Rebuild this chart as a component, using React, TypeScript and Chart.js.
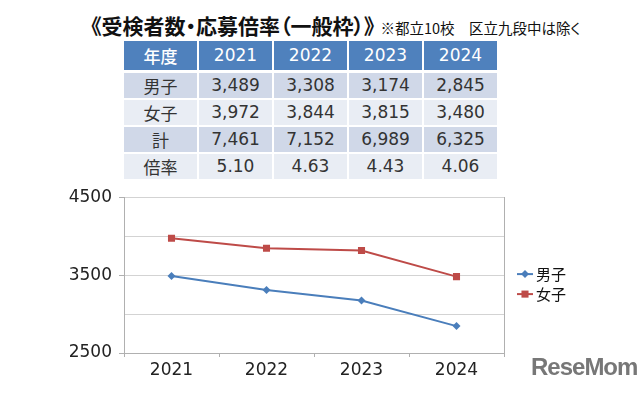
import React, { useEffect, useRef } from "react";
import { Chart, registerables } from "chart.js";

Chart.register(...registerables);

const years = ["2021", "2022", "2023", "2024"];
const boys = [3489, 3308, 3174, 2845];
const girls = [3972, 3844, 3815, 3480];
const totals = [7461, 7152, 6989, 6325];
const ratios = [5.1, 4.63, 4.43, 4.06];
const seriesNames = ["男子", "女子"];
const rowLabels = ["男子", "女子", "計", "倍率"];
const yTickLabels = [2500, 3500, 4500];

const BLUE = "#4a7ebb";
const RED = "#be4b48";
const AXIS = "#b0b0b0";

const decorPlugin = {
  id: "decor",
  afterDraw(chart: any) {
    const ctx = chart.ctx;
    const ys = chart.scales.y;
    const area = chart.chartArea;
    ctx.save();
    ctx.strokeStyle = AXIS;
    ctx.lineWidth = 1;
    yTickLabels.forEach((v) => {
      const py = Math.round(ys.getPixelForValue(v)) + 0.5;
      ctx.beginPath();
      ctx.moveTo(area.left - 5, py);
      ctx.lineTo(area.left, py);
      ctx.stroke();
    });
    ctx.restore();

    const x0 = area.right + 13;
    const yc = (area.top + area.bottom) / 2;
    chart.data.datasets.forEach((ds: any, i: number) => {
      const y = yc - 1 + i * 20;
      ctx.save();
      ctx.strokeStyle = ds.borderColor;
      ctx.lineWidth = 2;
      ctx.beginPath();
      ctx.moveTo(x0, y);
      ctx.lineTo(x0 + 16, y);
      ctx.stroke();
      ctx.fillStyle = ds.backgroundColor;
      const r = ds.pointRadius;
      if (ds.pointStyle === "rectRot") {
        ctx.beginPath();
        ctx.moveTo(x0 + 8, y - r);
        ctx.lineTo(x0 + 8 + r, y);
        ctx.lineTo(x0 + 8, y + r);
        ctx.lineTo(x0 + 8 - r, y);
        ctx.closePath();
        ctx.fill();
      } else {
        const s = r * Math.SQRT1_2;
        ctx.fillRect(x0 + 8 - s, y - s, 2 * s, 2 * s);
      }
      ctx.fillStyle = "#111";
      ctx.font = '15px "Noto Sans CJK JP"';
      ctx.textBaseline = "middle";
      ctx.textAlign = "left";
      ctx.fillText(ds.label, x0 + 19, y);
      ctx.restore();
    });
  },
};

function LineChart() {
  const ref = useRef<HTMLCanvasElement | null>(null);
  useEffect(() => {
    if (!ref.current) return;
    const chart = new Chart(ref.current, {
      type: "line",
      data: {
        labels: years,
        datasets: [
          {
            label: seriesNames[0],
            data: boys,
            borderColor: BLUE,
            backgroundColor: BLUE,
            borderWidth: 2,
            pointStyle: "rectRot",
            pointRadius: 4,
            pointBorderWidth: 0,
            tension: 0,
          },
          {
            label: seriesNames[1],
            data: girls,
            borderColor: RED,
            backgroundColor: RED,
            borderWidth: 2,
            pointStyle: "rect",
            pointRadius: 5,
            pointBorderWidth: 0,
            tension: 0,
          },
        ],
      },
      options: {
        animation: false,
        responsive: false,
        maintainAspectRatio: false,
        layout: { padding: { top: 14, right: 136, left: 0, bottom: 0 } },
        plugins: { legend: { display: false }, tooltip: { enabled: false } },
        scales: {
          x: {
            offset: true,
            afterFit: (s: any) => {
              s.height = 40;
            },
            grid: {
              offset: true,
              drawOnChartArea: false,
              color: AXIS,
              tickColor: AXIS,
              tickLength: 4,
            },
            border: { color: AXIS, width: 1 },
            ticks: {
              color: "#222",
              font: { family: "DejaVu Sans", size: 17 },
              padding: 3,
              autoSkip: false,
            },
          },
          y: {
            min: 2500,
            max: 4500,
            afterFit: (s: any) => {
              s.width = 124;
            },
            grid: {
              color: "#d3d3d3",
              drawTicks: true,
              tickLength: 5,
              tickColor: "rgba(0,0,0,0)",
            },
            border: { color: AXIS, width: 1 },
            ticks: {
              stepSize: 500,
              color: "#222",
              font: { family: "DejaVu Sans", size: 17 },
              padding: 7,
              autoSkip: false,
              callback: (v: any) => (yTickLabels.includes(Number(v)) ? String(v) : " "),
            },
          },
          yRight: {
            position: "right",
            min: 2500,
            max: 4500,
            afterFit: (s: any) => {
              s.width = 0;
            },
            grid: { display: false, drawTicks: false },
            ticks: { display: false, padding: 0 },
            border: { display: true, color: AXIS, width: 1 },
          },
        },
      },
      plugins: [decorPlugin],
    });
    return () => chart.destroy();
  }, []);
  return (
    <canvas
      ref={ref}
      width={640}
      height={213}
      style={{ position: "absolute", left: 0, top: 180, width: 640, height: 213 }}
    />
  );
}

const cellFont = '"DejaVu Sans", "Noto Sans CJK JP", sans-serif';

function DataTable() {
  const rows = [
    boys.map((v) => v.toLocaleString("en-US")),
    girls.map((v) => v.toLocaleString("en-US")),
    totals.map((v) => v.toLocaleString("en-US")),
    ratios.map((v) => v.toFixed(2)),
  ];
  const rowBg = ["#d0d8e8", "#e9edf4", "#d0d8e8", "#e9edf4"];
  const base: React.CSSProperties = {
    width: 73,
    padding: 0,
    textAlign: "center",
    border: "2px solid #fff",
    fontFamily: cellFont,
    fontSize: 17,
  };
  return (
    <table
      style={{
        position: "absolute",
        left: 122,
        top: 39,
        borderCollapse: "collapse",
        tableLayout: "fixed",
      }}
    >
      <thead>
        <tr style={{ height: 31 }}>
          <th style={{ ...base, background: "#4f81bd", color: "#fff", fontWeight: 500, borderBottomWidth: 3 }}>年度</th>
          {years.map((y) => (
            <th key={y} style={{ ...base, background: "#4f81bd", color: "#fff", fontWeight: 500, borderBottomWidth: 3 }}>
              {y}
            </th>
          ))}
        </tr>
      </thead>
      <tbody>
        {rows.map((r, i) => (
          <tr key={i} style={{ height: 27 }}>
            <td style={{ ...base, background: rowBg[i], color: "#333" }}>{rowLabels[i]}</td>
            {r.map((v, j) => (
              <td key={j} style={{ ...base, background: rowBg[i], color: "#333" }}>
                {v}
              </td>
            ))}
          </tr>
        ))}
      </tbody>
    </table>
  );
}

export default function App() {
  return (
    <div
      style={{
        position: "absolute",
        left: 0,
        top: 0,
        width: 640,
        height: 393,
        background: "#fff",
        overflow: "hidden",
      }}
    >
      <div
        style={{
          position: "absolute",
          left: 91,
          top: 15,
          whiteSpace: "nowrap",
          fontFamily: '"Noto Sans CJK JP", sans-serif',
          fontFeatureSettings: '"palt"',
          color: "#111",
          lineHeight: 1,
        }}
      >
        <span style={{ fontSize: 21, fontWeight: 700 }}>《受検者数・応募倍率（一般枠）》</span>
        <span style={{ fontSize: 14.5, marginLeft: 6 }}>※都立10校　区立九段中は除く</span>
      </div>
      <DataTable />
      <LineChart />
      <div
        style={{
          position: "absolute",
          left: 531,
          top: 353,
          fontFamily: '"Liberation Sans", sans-serif',
          fontWeight: 700,
          fontSize: 24,
          color: "#777",
          letterSpacing: -1,
        }}
      >
        ReseMom
      </div>
    </div>
  );
}
